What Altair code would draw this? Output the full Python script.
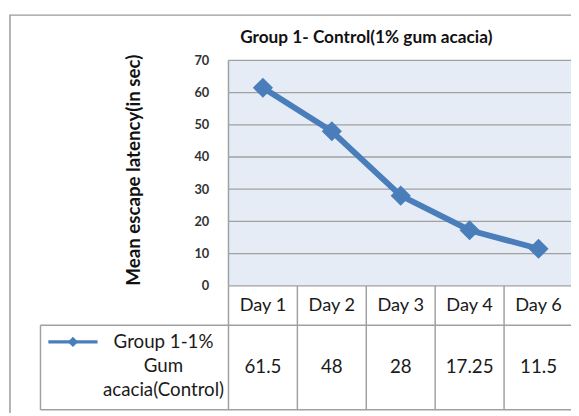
import altair as alt
import pandas as pd

# ---- data ----
days = ["Day 1", "Day 2", "Day 3", "Day 4", "Day 6"]
latency = [61.5, 48, 28, 17.25, 11.5]
value_labels = ["61.5", "48", "28", "17.25", "11.5"]
series_name = "Group 1-1%\nGum\nacacia(Control)"
y_ticks = [0, 10, 20, 30, 40, 50, 60, 70]
y_domain = [0, 70]
chart_title = "Group 1- Control(1% gum acacia)"
y_title = "Mean escape latency(in sec)"

FONT = "Lato"
LINE_COLOR = "#4A7EBB"
GRID = "#a0a0a0"
TEXT = "#1a1a1a"

df = pd.DataFrame({"day": days, "latency": latency, "label": value_labels})
bg_df = pd.DataFrame({"lo": [y_domain[0]], "hi": [y_domain[1]]})
grid_df = pd.DataFrame({"tick": y_ticks})
one_df = pd.DataFrame({"name": [series_name], "title": [chart_title]})

PLOT_H = 229
HEADER_BOTTOM = 269
TABLE_BOTTOM = 355

xscale = alt.Scale(domain=days, paddingInner=0, paddingOuter=0, range=[0, 350])
yscale = alt.Scale(domain=y_domain, range=[PLOT_H, 0])

base = alt.Chart(df)

# outer frame
frame = alt.Chart(one_df).mark_rect(fill=None, stroke="#9a9a9a", strokeWidth=1.5).encode(
    x=alt.value(-222), x2=alt.value(380), y=alt.value(-46), y2=alt.value(420)
)

# plot area background (carries the y axis)
bg = alt.Chart(bg_df).mark_rect(color="#E6ECF5").encode(
    y=alt.Y("lo:Q", scale=yscale,
            axis=alt.Axis(values=y_ticks, grid=False,
                          domain=False, ticks=False, tickSize=0, labelPadding=20,
                          labelFont=FONT, labelFontSize=13, labelFontWeight="bold",
                          labelColor="#333333",
                          title=y_title, titleFont=FONT,
                          titleFontSize=19, titleFontWeight="bold", titleColor="#111111",
                          titleX=-96, titleY=111, titleBaseline="middle", titleAlign="center")),
    y2="hi:Q",
)

# horizontal gridlines
grid = alt.Chart(grid_df).mark_rule(color=GRID, strokeWidth=1.3).encode(
    y=alt.Y("tick:Q", scale=yscale),
    x=alt.value(0), x2=alt.value(350),
)

# table: vertical band edges
vlines = base.mark_rule(color=GRID, strokeWidth=1.5).encode(
    x=alt.X("day:N", scale=xscale, bandPosition=0, axis=None),
    y=alt.value(PLOT_H), y2=alt.value(TABLE_BOTTOM),
)
left_border = alt.Chart(one_df).mark_rule(color=GRID, strokeWidth=1.5).encode(
    x=alt.value(0), y=alt.value(0), y2=alt.value(PLOT_H)
)
row_line = alt.Chart(one_df).mark_rule(color=GRID, strokeWidth=1.5).encode(
    x=alt.value(-191), x2=alt.value(350), y=alt.value(HEADER_BOTTOM)
)
bottom_line = alt.Chart(one_df).mark_rule(color=GRID, strokeWidth=1.5).encode(
    x=alt.value(-191), x2=alt.value(350), y=alt.value(TABLE_BOTTOM)
)
legend_left = alt.Chart(one_df).mark_rule(color=GRID, strokeWidth=1.5).encode(
    x=alt.value(-191), y=alt.value(HEADER_BOTTOM), y2=alt.value(TABLE_BOTTOM)
)

# header labels and values
day_text = base.mark_text(font=FONT, fontSize=18.5, color=TEXT).encode(
    x=alt.X("day:N", scale=xscale, axis=None),
    y=alt.value((PLOT_H + HEADER_BOTTOM) / 2),
    text="day:N",
)
val_text = base.mark_text(font=FONT, fontSize=19, color=TEXT).encode(
    x=alt.X("day:N", scale=xscale, axis=None),
    y=alt.value((HEADER_BOTTOM + TABLE_BOTTOM) / 2),
    text="label:N",
)

# legend cell
leg_text = alt.Chart(one_df).mark_text(
    font=FONT, fontSize=19, color=TEXT, lineBreak="\n", lineHeight=24.5, baseline="middle"
).encode(x=alt.value(-66), y=alt.value(286), text="name:N")
leg_line = alt.Chart(one_df).mark_rule(color=LINE_COLOR, strokeWidth=3.5).encode(
    x=alt.value(-183), x2=alt.value(-133), y=alt.value(286)
)
leg_pt = alt.Chart(one_df).mark_point(
    shape="diamond", filled=True, size=110, color=LINE_COLOR, opacity=1
).encode(x=alt.value(-158), y=alt.value(286))

# title
title_text = alt.Chart(one_df).mark_text(
    font=FONT, fontSize=17.5, fontWeight="bold", color="#111111", baseline="middle"
).encode(x=alt.value(140), y=alt.value(-23), text="title:N")

# series
line = base.mark_line(color=LINE_COLOR, strokeWidth=6).encode(
    x=alt.X("day:N", scale=xscale, axis=None, sort=days),
    y=alt.Y("latency:Q", scale=yscale),
)
points = base.mark_point(shape="diamond", filled=True, size=420, color=LINE_COLOR, opacity=1).encode(
    x=alt.X("day:N", scale=xscale, axis=None, sort=days),
    y=alt.Y("latency:Q", scale=yscale),
)

chart = alt.layer(
    frame, bg, grid, vlines, left_border, row_line, bottom_line, legend_left,
    day_text, val_text, leg_text, leg_line, leg_pt, title_text, line, points,
).properties(
    width=348,
    height=TABLE_BOTTOM,
    padding={"left": 224, "top": 50, "right": 0, "bottom": 0},
    autosize=alt.AutoSizeParams(type="none"),
).configure_view(stroke=None)

chart.save("out.html", embed_options={"renderer": "svg", "actions": False})
